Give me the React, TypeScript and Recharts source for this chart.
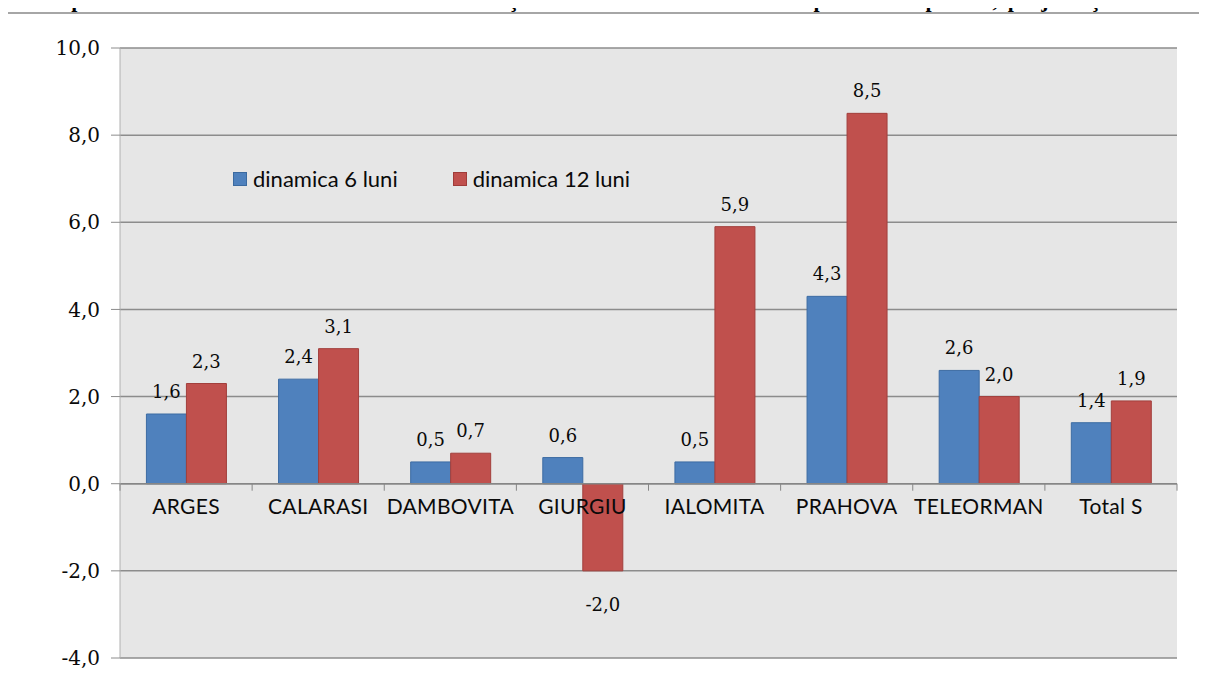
import React from 'react';
import { BarChart, Bar, XAxis, YAxis, CartesianGrid, ReferenceLine, LabelList } from 'recharts';

const categories = ['ARGES', 'CALARASI', 'DAMBOVITA', 'GIURGIU', 'IALOMITA', 'PRAHOVA', 'TELEORMAN', 'Total S'];
const dinamica6 = [1.6, 2.4, 0.5, 0.6, 0.5, 4.3, 2.6, 1.4];
const dinamica12 = [2.3, 3.1, 0.7, -2.0, 5.9, 8.5, 2.0, 1.9];
const yTicks = [-4, -2, 0, 2, 4, 6, 8, 10];
const seriesNames = ['dinamica 6 luni', 'dinamica 12 luni'];
const title = 'Comparativ dinamica numărului de salariaţi din domeniul sistemului public de pensii, pe judeţe';

const W = 1207;
const H = 686;
const MARGIN = { top: 48, right: 30, bottom: 27, left: 0 };
const X_AXIS_H = 1;
const Y_AXIS_W = 120;
const BLUE = '#4f81bd';
const RED = '#c0504d';
const SANS = 'Lato, "Open Sans", sans-serif';
const SERIF = '"DejaVu Serif", serif';
const TEXT = '#0a0a0a';

const data = categories.map((name, i) => ({ name, d6: dinamica6[i], d12: dinamica12[i] }));

const fmt = (v: number) => v.toFixed(1).replace('.', ',');

const yMin = yTicks[0];
const yMax = yTicks[yTicks.length - 1];
const plotTop = MARGIN.top;
const plotH = H - MARGIN.top - MARGIN.bottom - X_AXIS_H;
const plotLeft = MARGIN.left + Y_AXIS_W;
const plotW = W - plotLeft - MARGIN.right;
const zeroY = plotTop + ((yMax - 0) / (yMax - yMin)) * plotH;
const band = plotW / categories.length;

const CategoryTick = (props: any) => {
  const { x, payload, index } = props;
  const left = x - band / 2;
  return (
    <g>
      <line x1={left} x2={left} y1={zeroY} y2={zeroY + 7} stroke="#868686" />
      {index === categories.length - 1 && (
        <line x1={left + band} x2={left + band} y1={zeroY} y2={zeroY + 7} stroke="#868686" />
      )}
      <text x={x} y={zeroY + 30} textAnchor="middle" fontFamily={SANS} fontSize={21} letterSpacing={0.3} fill={TEXT}>
        {payload.value}
      </text>
    </g>
  );
};

const ValueLabel = (props: any) => {
  const { x, y, width, height, value } = props;
  const top = Math.min(y, y + height);
  const bottom = Math.max(y, y + height);
  const ty = value >= 0 ? top - 16 : bottom + 40;
  return (
    <text x={x + width / 2} y={ty} textAnchor="middle" fontFamily={SERIF} fontSize={18} fill={TEXT}>
      {fmt(value)}
    </text>
  );
};

const LegendBox = () => (
  <div style={{ position: 'absolute', left: 233, top: 165, display: 'flex', fontFamily: SANS, fontSize: 22, color: TEXT }}>
    {seriesNames.map((n, i) => (
      <div key={n} style={{ display: 'flex', alignItems: 'center', marginRight: 55 }}>
        <span style={{ width: 12, height: 12, background: i === 0 ? BLUE : RED, border: '1px solid ' + (i === 0 ? '#3b6aa0' : '#a03c39'), marginRight: 6 }} />
        <span>{n}</span>
      </div>
    ))}
  </div>
);

export default function App() {
  return (
    <div style={{ position: 'relative', margin: -8, width: W, height: H, overflow: 'hidden', background: '#fff' }}>
      <svg width={W} height={20} style={{ position: 'absolute', left: 0, top: 0 }}>
        <text x={20} y={7} textLength={1090} lengthAdjust="spacing" fontFamily='"Liberation Serif", serif' fontWeight="bold" fontSize={22} fill="#000">
          {title}
        </text>
      </svg>
      <div style={{ position: 'absolute', left: 5, top: 12, width: 1400, height: 900, borderLeft: '2px solid #a6a6a6', borderTop: '2px solid #a6a6a6' }} />
      <div style={{ position: 'absolute', left: 0, top: 0 }}>
        <BarChart width={W} height={H} data={data} margin={MARGIN} barCategoryGap="20%" barGap={0}>
          <CartesianGrid vertical={false} fill="#e6e6e6" stroke="#8c8c8c" strokeWidth={1.5} />
          <XAxis dataKey="name" height={X_AXIS_H} axisLine={false} tickLine={false} tick={<CategoryTick />} interval={0} />
          <YAxis
            width={Y_AXIS_W}
            domain={[yMin, yMax]}
            ticks={yTicks}
            tickFormatter={fmt}
            axisLine={{ stroke: '#b0b0b0' }}
            tickLine={{ stroke: '#8c8c8c' }}
            tickSize={9}
            tickMargin={11}
            tick={{ fontFamily: SERIF, fontSize: 20, fill: TEXT }}
          />
          <ReferenceLine y={0} stroke="#868686" strokeWidth={1.5} />
          <Bar dataKey="d6" name={seriesNames[0]} fill={BLUE} stroke="#3d6ca3" isAnimationActive={false}>
            <LabelList dataKey="d6" content={<ValueLabel />} />
          </Bar>
          <Bar dataKey="d12" name={seriesNames[1]} fill={RED} stroke="#a23f3c" isAnimationActive={false}>
            <LabelList dataKey="d12" content={<ValueLabel />} />
          </Bar>
        </BarChart>
      </div>
      <LegendBox />
    </div>
  );
}
